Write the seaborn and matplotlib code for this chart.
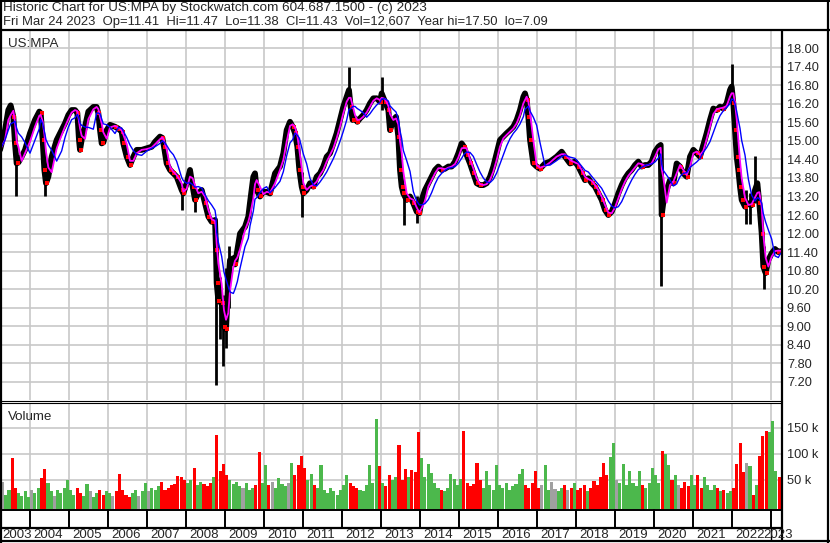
import numpy as np
import pandas as pd
import matplotlib
matplotlib.use("Agg")
import matplotlib.pyplot as plt
import seaborn as sns
from matplotlib.lines import Line2D

sns.set_theme(style="white")
plt.rcParams["font.family"] = ["Liberation Sans", "DejaVu Sans"]

# closing prices (decimal year, price)
price_t = [2003.231, 2003.359, 2003.444, 2003.504, 2003.573, 2003.615, 2003.658, 2003.701, 2003.786, 2003.872,
           2004.000, 2004.128, 2004.239, 2004.274, 2004.325, 2004.368, 2004.410, 2004.470, 2004.556, 2004.684,
           2004.812, 2004.897, 2004.983, 2005.068, 2005.154, 2005.214, 2005.256, 2005.282, 2005.325, 2005.410,
           2005.496, 2005.624, 2005.709, 2005.752, 2005.795, 2005.838, 2005.880, 2005.966, 2006.051, 2006.179,
           2006.265, 2006.350, 2006.393, 2006.479, 2006.564, 2006.650, 2006.735, 2006.863, 2006.991, 2007.120,
           2007.205, 2007.333, 2007.393, 2007.436, 2007.504, 2007.590, 2007.675, 2007.761, 2007.889, 2007.932,
           2008.017, 2008.103, 2008.171, 2008.231, 2008.316, 2008.402, 2008.487, 2008.573, 2008.658, 2008.744,
           2008.769, 2008.786, 2008.829, 2008.915, 2008.974, 2009.026, 2009.085, 2009.128, 2009.214, 2009.256,
           2009.316, 2009.385, 2009.513, 2009.598, 2009.641, 2009.726, 2009.769, 2009.812, 2009.897, 2009.983,
           2010.068, 2010.154, 2010.282, 2010.410, 2010.496, 2010.581, 2010.667, 2010.735, 2010.795, 2010.855,
           2010.906, 2010.966, 2011.009, 2011.094, 2011.179, 2011.265, 2011.350, 2011.436, 2011.521, 2011.607,
           2011.692, 2011.778, 2011.863, 2011.949, 2012.034, 2012.120, 2012.179, 2012.222, 2012.273, 2012.333,
           2012.393, 2012.462, 2012.547, 2012.632, 2012.718, 2012.803, 2012.889, 2012.974, 2013.017, 2013.103,
           2013.188, 2013.231, 2013.316, 2013.385, 2013.444, 2013.487, 2013.530, 2013.573, 2013.658, 2013.744,
           2013.829, 2013.915, 2013.983, 2014.043, 2014.128, 2014.214, 2014.299, 2014.385, 2014.470, 2014.556,
           2014.641, 2014.726, 2014.812, 2014.897, 2014.983, 2015.068, 2015.128, 2015.197, 2015.282, 2015.368,
           2015.453, 2015.538, 2015.624, 2015.709, 2015.795, 2015.880, 2015.966, 2016.051, 2016.137, 2016.222,
           2016.308, 2016.393, 2016.479, 2016.564, 2016.650, 2016.692, 2016.735, 2016.778, 2016.821, 2016.906,
           2016.991, 2017.077, 2017.205, 2017.333, 2017.504, 2017.632, 2017.718, 2017.846, 2017.974, 2018.060,
           2018.145, 2018.231, 2018.316, 2018.402, 2018.487, 2018.573, 2018.658, 2018.744, 2018.829, 2018.915,
           2019.000, 2019.085, 2019.171, 2019.256, 2019.342, 2019.427, 2019.513, 2019.598, 2019.684, 2019.769,
           2019.855, 2019.940, 2020.026, 2020.111, 2020.171, 2020.197, 2020.239, 2020.325, 2020.410, 2020.496,
           2020.581, 2020.667, 2020.752, 2020.838, 2020.923, 2021.009, 2021.094, 2021.179, 2021.265, 2021.350,
           2021.436, 2021.521, 2021.607, 2021.692, 2021.778, 2021.863, 2021.949, 2021.991, 2022.034, 2022.077,
           2022.120, 2022.162, 2022.205, 2022.248, 2022.333, 2022.419, 2022.504, 2022.590, 2022.650, 2022.701,
           2022.761, 2022.803, 2022.863, 2022.932, 2023.017, 2023.103, 2023.188, 2023.248]
price_close = [14.71, 15.35, 16.00, 16.15, 15.78, 14.92, 14.27, 14.30, 14.49, 14.71,
               15.25, 15.68, 15.95, 15.90, 15.03, 14.06, 13.63, 13.84, 14.49, 15.03,
               15.35, 15.57, 15.84, 16.00, 16.00, 15.90, 15.03, 14.71, 15.03, 15.46,
               15.95, 16.10, 16.10, 15.90, 15.35, 14.92, 14.95, 15.35, 15.52, 15.46,
               15.40, 15.30, 14.92, 14.49, 14.22, 14.49, 14.71, 14.71, 14.76, 14.81,
               14.97, 15.14, 15.10, 14.81, 14.27, 14.06, 13.95, 13.84, 13.41, 13.30,
               13.63, 14.06, 13.52, 13.09, 13.30, 13.41, 12.98, 12.55, 12.38, 12.44,
               11.47, 10.40, 9.83, 9.74, 8.98, 8.90, 10.40, 11.14, 11.20, 11.00,
               11.47, 12.00, 12.22, 12.55, 13.00, 13.84, 13.95, 13.41, 13.20, 13.35,
               13.35, 13.30, 13.95, 14.17, 14.60, 15.35, 15.62, 15.46, 15.25, 14.81,
               14.06, 13.52, 13.30, 13.41, 13.63, 13.52, 13.84, 13.95, 14.17, 14.49,
               14.60, 14.92, 15.25, 15.68, 16.11, 16.43, 16.65, 16.11, 15.68, 15.73,
               15.62, 15.73, 15.84, 16.00, 16.22, 16.38, 16.38, 16.27, 16.54, 16.27,
               16.00, 15.35, 15.68, 15.78, 15.14, 14.06, 13.52, 13.30, 13.09, 13.20,
               12.98, 12.71, 12.66, 13.09, 13.41, 13.63, 13.84, 14.06, 14.17, 14.06,
               14.10, 14.17, 14.17, 14.33, 14.60, 14.92, 14.81, 14.54, 14.27, 13.95,
               13.63, 13.57, 13.57, 13.63, 13.84, 14.17, 14.60, 15.03, 15.14, 15.25,
               15.35, 15.46, 15.68, 16.00, 16.43, 16.54, 16.33, 15.78, 15.03, 14.27,
               14.17, 14.10, 14.27, 14.33, 14.49, 14.65, 14.49, 14.27, 14.33, 14.17,
               13.95, 13.73, 13.79, 13.63, 13.52, 13.30, 13.09, 12.76, 12.60, 12.71,
               12.98, 13.30, 13.57, 13.79, 13.95, 14.06, 14.22, 14.33, 14.17, 14.22,
               14.22, 14.33, 14.65, 14.81, 14.87, 12.60, 13.00, 13.41, 13.73, 13.63,
               14.27, 14.17, 13.95, 13.84, 14.49, 14.71, 14.60, 14.49, 14.87, 15.25,
               15.68, 16.05, 16.00, 16.11, 16.05, 16.22, 16.65, 16.76, 16.22, 15.35,
               14.49, 14.06, 13.52, 13.09, 12.87, 12.98, 12.92, 13.41, 13.63, 12.98,
               12.00, 10.93, 10.72, 11.14, 11.36, 11.50, 11.40, 11.43]

# intraday extremes visible as long wicks
wick_t = [2003.64, 2004.39, 2007.89, 2008.23, 2008.78, 2008.86, 2008.95, 2009.03, 2009.10, 2010.97,
          2012.18, 2013.02, 2013.60, 2013.92, 2020.19, 2021.99, 2022.35, 2022.45, 2022.60, 2022.81]
wick_lo = [13.20, 13.20, 12.76, 12.70, 7.09, 8.60, 7.70, 8.30, 9.60, 12.55,
           16.00, 16.00, 12.28, 12.34, 10.30, 16.20, 12.30, 12.30, 13.00, 10.20]
wick_hi = [14.60, 14.30, 13.60, 13.50, 11.00, 10.60, 10.00, 10.90, 11.60, 14.00,
           17.40, 17.08, 13.60, 13.20, 14.90, 17.50, 13.40, 13.30, 14.50, 11.60]

# monthly volume in thousands, Apr 2003 .. Mar 2023
volume_k = [47, 22, 30, 92, 35, 25, 20, 28, 18,
            30, 25, 35, 54, 72, 45, 28, 20, 30, 25, 35, 50,
            30, 22, 35, 25, 20, 42, 28, 18, 25, 30, 22, 28,
            25, 20, 28, 62, 30, 22, 18, 25, 30, 20, 28, 44,
            28, 35, 30, 38, 46, 30, 35, 40, 42, 57, 55, 50,
            45, 50, 73, 40, 47, 42, 38, 45, 55, 137, 67, 81,
            60, 50, 42, 46, 38, 35, 44, 30, 35, 40, 104, 45,
            79, 40, 46, 35, 54, 42, 38, 45, 83, 60, 79, 96,
            73, 50, 62, 40, 35, 79, 30, 25, 35, 28, 22, 30,
            40, 59, 45, 38, 35, 30, 28, 40, 79, 45, 168, 76,
            45, 38, 60, 50, 55, 117, 50, 72, 55, 70, 65, 142,
            92, 55, 81, 63, 45, 35, 30, 28, 35, 62, 51, 40,
            51, 145, 45, 38, 42, 83, 50, 35, 68, 40, 30, 78,
            40, 35, 45, 30, 38, 42, 62, 72, 40, 35, 45, 68,
            35, 40, 78, 30, 46, 32, 28, 35, 40, 30, 35, 44,
            30, 35, 40, 28, 35, 49, 40, 55, 83, 60, 94, 121,
            50, 45, 81, 40, 67, 45, 38, 68, 40, 35, 45, 74,
            59, 45, 106, 100, 79, 50, 60, 40, 35, 46, 38, 60,
            40, 59, 35, 55, 40, 30, 41, 35, 28, 30, 25, 28,
            35, 80, 121, 65, 83, 76, 22, 40, 96, 134, 145, 142,
            164, 68, 55]

years = list(range(2003, 2024))
price_ticks = [7.20, 7.80, 8.40, 9.00, 9.60, 10.20, 10.80, 11.40, 12.00, 12.60, 13.20, 13.80,
               14.40, 15.00, 15.60, 16.20, 16.80, 17.40, 18.00]
vol_ticks = [50000, 100000, 150000]
vol_tick_labels = ["50 k", "100 k", "150 k"]

title1 = "Historic Chart for US:MPA by Stockwatch.com 604.687.1500 - (c) 2023"
title2 = ("Fri Mar 24 2023  Op=11.41  Hi=11.47  Lo=11.38  Cl=11.43  Vol=12,607  "
          "Year hi=17.50  lo=7.09")

# ---------------------------------------------------------------
W, H = 830, 543
t = np.array(price_t)
close = np.array(price_close)


def to_ts(y):
    yr = int(y)
    return pd.Timestamp(yr, 1, 1) + pd.Timedelta(days=(y - yr) * 365.25)


s = pd.Series(close, index=[to_ts(v) for v in t])
ma_fast = s.rolling("55D").mean().values
ma_slow = s.rolling("140D").mean().values

# month positions and up/down colour for the volume bars
vol_t = 2003.25 + np.arange(len(volume_k)) / 12.0
vol_col = []
for m0 in vol_t:
    i_prev = np.searchsorted(t, m0, side="right") - 1
    i_end = np.searchsorted(t, m0 + 1 / 12.0, side="right") - 1
    if i_end == i_prev or i_prev < 0:
        vol_col.append("#a0a0a0")
    elif close[i_end] >= close[i_prev]:
        vol_col.append("#4cb84c")
    else:
        vol_col.append("#ff0000")
vol = np.array(volume_k) * 1000.0

fig = plt.figure(figsize=(W / 100, H / 100), dpi=100)


def box(x0, y0, x1, y1):
    return [x0 / W, 1 - y1 / H, (x1 - x0) / W, (y1 - y0) / H]


def px_x(x):
    return 2004 + (x - 30) / 39.0


grid_c = "#c8c8c8"
ax = fig.add_axes(box(2, 31, 782, 400))
axv = fig.add_axes(box(2, 403, 782, 509))
axs = fig.add_axes(box(2, 509, 782, 527))

for a in (ax, axv, axs):
    a.set_xlim(px_x(2), px_x(782))
    for sp in a.spines.values():
        sp.set_visible(False)
    a.set_facecolor("white")

# price panel
ax.set_ylim(18.0 - (400 - 48.3) * 0.03239, 18.0 + (48.3 - 31) * 0.03239)
for yv in price_ticks:
    ax.axhline(yv, color=grid_c, lw=1.2, zorder=0)
for yr in years[1:]:
    ax.axvline(yr, color=grid_c, lw=1.2, zorder=0)
ax.vlines(wick_t, wick_lo, wick_hi, color="black", lw=2.0, zorder=2)
sns.lineplot(x=t, y=close, color="black", lw=4.2, estimator=None, sort=False, ax=ax, zorder=2)
down = np.r_[False, close[1:] < close[:-1]]
ax.scatter(t[down] + 0.025, close[down], s=6, marker="s", color="#ff0000", lw=0, zorder=3)
sns.lineplot(x=t, y=ma_fast, color="#ff00ff", lw=1.3, estimator=None, sort=False, ax=ax, zorder=4)
sns.lineplot(x=t, y=ma_slow, color="#0000ff", lw=1.0, estimator=None, sort=False, ax=ax, zorder=5)
ax.yaxis.tick_right()
ax.set_yticks(price_ticks)
ax.set_yticklabels(["%.2f" % v for v in price_ticks], fontsize=9.2)
ax.tick_params(axis="y", length=0, pad=3.5)
ax.set_xticks([])
ax.set_xlabel("")
ax.set_ylabel("")
ax.text(0.008, 0.965, "US:MPA", transform=ax.transAxes, fontsize=9.6, va="center", ha="left")

# volume panel
axv.set_ylim(-(509 - 506) / 26 * 50000, (506 - 403) / 26 * 50000)
for yv in vol_ticks:
    axv.axhline(yv, color=grid_c, lw=1.2, zorder=0)
for yr in years[1:]:
    axv.axvline(yr, color=grid_c, lw=1.2, zorder=0)
vbot = axv.get_ylim()[0]
axv.bar(vol_t + 1 / 24.0, vol - vbot, bottom=vbot, width=1 / 12.0, color=vol_col, lw=0, zorder=2)
axv.yaxis.tick_right()
axv.set_yticks(vol_ticks)
axv.set_yticklabels(vol_tick_labels, fontsize=9.2)
axv.tick_params(axis="y", length=0, pad=3.5)
axv.set_xticks([])
axv.text(0.008, 0.87, "Volume", transform=axv.transAxes, fontsize=9.6, va="center", ha="left")

# year boundary strip
axs.set_ylim(0, 1)
axs.set_xticks([])
axs.set_yticks([])
axs.vlines(years[1:], 0, 1, color="black", lw=1.4)

# frame lines and year labels in pixel coordinates
def fline(x0, y0, x1, y1, lw=1.0):
    fig.add_artist(Line2D([x0 / W, x1 / W], [1 - y0 / H, 1 - y1 / H], color="black", lw=lw,
                          solid_capstyle="butt"))


fline(0, 0.5, 830, 0.5, 1.4)
fline(0, 30, 830, 30, 1.6)
fline(1, 0, 1, 543, 1.6)
fline(828, 0, 828, 543, 1.6)
fline(0, 541, 830, 541, 1.6)
fline(0, 400.5, 782, 400.5, 0.8)
fline(0, 402.5, 782, 402.5, 0.8)
fline(0, 509.5, 782, 509.5, 1.4)
fline(0, 527.5, 782, 527.5, 1.6)
fline(782, 30, 782, 541, 1.6)
fline(771, 527, 771, 541, 1.0)

fig.text(3 / W, 1 - 8.5 / H, title1, fontsize=9.7, va="center", ha="left")
fig.text(3 / W, 1 - 21.5 / H, title2, fontsize=9.4, va="center", ha="left")
for yr in years:
    if yr == 2003:
        xl = 2
    elif yr == 2023:
        xl = 763
    else:
        xl = 30 + (yr - 2004) * 39 + 3
    fig.text(xl / W, 1 - 534.5 / H, str(yr), fontsize=9.5, va="center", ha="left")

fig.savefig("out.png", dpi=100)
